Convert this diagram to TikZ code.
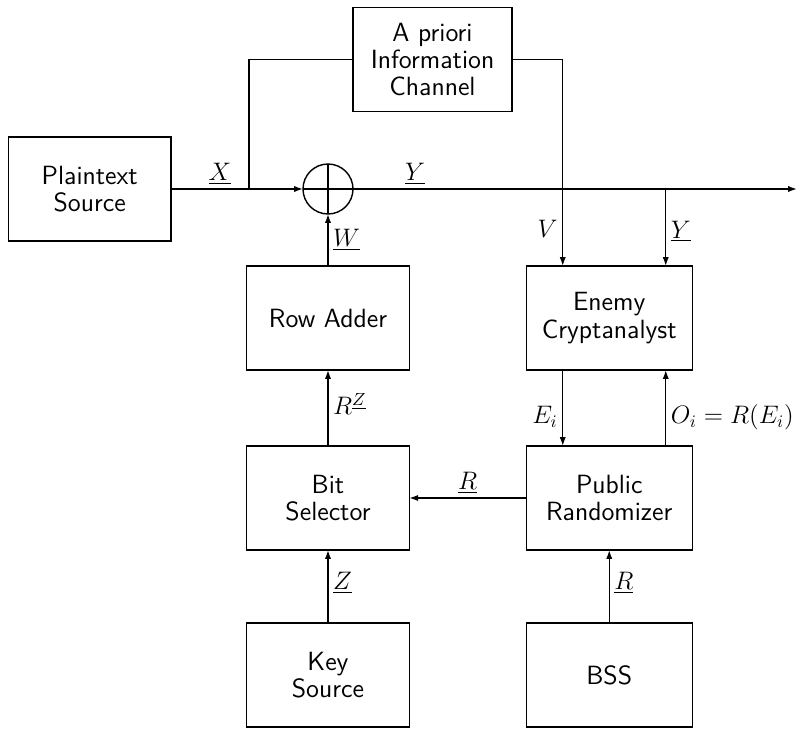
\documentclass[tikz,border=0pt]{standalone}
\usepackage{tikz}
\usetikzlibrary{positioning, arrows.meta, calc}

\begin{document}
\begin{tikzpicture}[
    node distance=1.5cm and 2.34cm,
    every node/.style={font=\fontsize{14}{16}\selectfont},
    block/.style={
        rectangle, draw=black, line width=0.8pt, outer sep=0pt,
        minimum width=3.25cm, minimum height=2.08cm, align=center,
        font=\fontsize{15}{15.5}\selectfont\sffamily
    },
    wideblock/.style={block, minimum width=3.32cm},
    xorsum/.style={circle, draw=black, line width=0.8pt, outer sep=0pt,
        minimum size=1cm, inner sep=0pt},
    arr/.style={-{Latex[length=5pt,width=3.5pt]}, line width=0.8pt},
    plain/.style={line width=0.8pt},
    lbl/.style={inner sep=2.5pt},
]

\useasboundingbox (0,0) rectangle (16.14,-14.6);

% Top row: source, modulo-2 adder, side channel
\node[xorsum] (xor) at (6.56,-3.78) {};
\node[block, left=2.64cm of xor] (src) {Plaintext\\Source};
\node[block, minimum width=3.18cm] (prior) at (8.65,-1.19) {A priori\\Information\\Channel};

% Left column
\node[block, below=1.04cm of xor] (adder) {Row Adder};
\node[block, below=1.52cm of adder] (bitsel) {Bit\\Selector};
\node[block, below=1.46cm of bitsel] (key) {Key\\Source};

% Right column
\node[wideblock, right=2.34cm of bitsel] (public) {Public\\Randomizer};
\node[wideblock, above=1.52cm of public] (enemy) {Enemy\\Cryptanalyst};
\node[wideblock, below=1.46cm of public] (bss) {BSS};

% Helper points
\coordinate (tap) at ($(xor.west)+(-1.08,0)$);
\coordinate (out) at ($(xor.east)+(8.88,0)$);
\coordinate (vin) at ($(enemy.north)+(-0.93,0)$);
\coordinate (yin) at ($(enemy.north)+(1.13,0)$);

% -- Arrows --
\draw[plain] (xor.north) -- (xor.south) (xor.west) -- (xor.east);
\draw[arr] (src.east) -- node[lbl, above, pos=0.37] {$\underline{X}$} (xor.west);
\draw[arr] (xor.east) -- node[lbl, above, pos=0.14] {$\underline{Y}$} (out);
\draw[plain] (tap) |- (prior.west);
\draw[arr] (prior.east) -| node[lbl, left, pos=0.91] {$V$} (vin);
\draw[arr] (yin |- xor.east) -- node[lbl, right, pos=0.55] {$\underline{Y}$} (yin);

\draw[arr] (adder.north) -- node[lbl, right] {$\underline{W}$} (xor.south);
\draw[arr] (bitsel.north) -- node[lbl, right, pos=0.55] {$R^{\underline{Z}}$} (adder.south);
\draw[arr] (key.north) -- node[lbl, right, pos=0.55] {$\underline{Z}$} (bitsel.south);

\draw[arr] (vin |- enemy.south) -- node[lbl, left, pos=0.62] {$E_i$} (vin |- public.north);
\draw[arr] (yin |- public.north) -- node[lbl, right, pos=0.38] {$O_i = R(E_i)$} (yin |- enemy.south);
\draw[arr] (public.west) -- node[lbl, above] {$\underline{R}$} (bitsel.east);
\draw[arr] (bss.north) -- node[lbl, right, pos=0.55] {$\underline{R}$} (public.south);

\end{tikzpicture}
\end{document}
